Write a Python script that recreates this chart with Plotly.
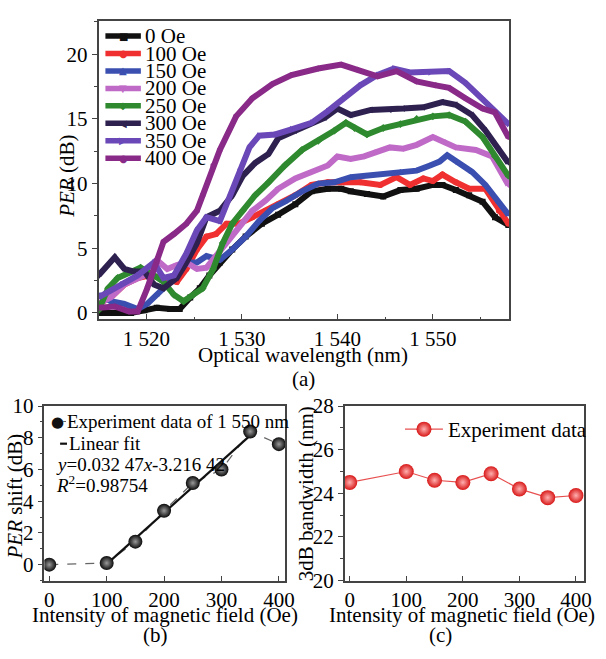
import plotly.graph_objects as go

W, H = 606, 659
FONT = "Liberation Serif, Times New Roman, serif"

# ---------------- Panel (a) data: PER vs wavelength ----------------
series_names = ["0 Oe", "100 Oe", "150 Oe", "200 Oe", "250 Oe", "300 Oe", "350 Oe", "400 Oe"]

wl_0 = [1515, 1516.7, 1518.4, 1519.8, 1521.1, 1522.5, 1523.5, 1524.6, 1525.6, 1526.6, 1527.7, 1529, 1530.4,
        1532.1, 1533.8, 1535.6, 1537.3, 1539, 1540.4, 1541.4, 1543.1, 1544.8, 1546.6, 1548.3, 1550, 1551,
        1552.4, 1553.8, 1555.2, 1556.5, 1557.9]
per_0 = [0.0, 0.0, 0.0, 0.2, 0.4, 0.3, 0.3, 1.2, 1.9, 2.9, 3.9, 4.9, 5.9, 6.9, 7.6, 8.4, 9.4, 9.6, 9.6, 9.4,
         9.2, 9.0, 9.5, 9.6, 9.9, 9.9, 9.5, 9.1, 8.6, 7.4, 6.8]

wl_100 = [1515, 1516.3, 1517.7, 1519.1, 1520.4, 1521.8, 1523.2, 1524.2, 1525.3, 1526.3, 1527.3, 1528.4, 1529.7,
          1531.1, 1532.5, 1533.8, 1535.6, 1537.3, 1539, 1540.7, 1542.4, 1544.5, 1546.2, 1547.6, 1549, 1550,
          1551, 1552.4, 1553.8, 1555.5, 1556.9, 1557.9]
per_100 = [0.7, 1.2, 2.2, 2.7, 2.9, 2.7, 2.4, 3.4, 4.9, 5.9, 6.1, 6.9, 6.9, 7.4, 7.9, 8.4, 9.1, 9.9, 10.1, 10.1,
           10.1, 9.9, 10.5, 9.9, 10.4, 10.2, 10.7, 10.1, 9.6, 9.6, 7.9, 6.9]

wl_150 = [1515, 1516.3, 1517.7, 1519.1, 1520.1, 1521.1, 1522.2, 1523.2, 1524.2, 1525.3, 1526.3, 1527.7, 1529,
          1530.4, 1531.8, 1533.2, 1534.5, 1536.3, 1538, 1539.7, 1541.4, 1543.1, 1544.8, 1546.6, 1548.3, 1549.7,
          1550.7, 1551.5, 1552.7, 1554.1, 1555.5, 1556.9, 1557.9]
per_150 = [1.4, 0.9, 0.7, 0.3, 0.7, 1.4, 2.2, 2.9, 3.9, 3.9, 4.4, 4.1, 4.9, 5.9, 7.1, 8.1, 8.6, 9.4, 10.0, 10.1,
           10.5, 10.6, 10.7, 10.9, 11.0, 11.4, 11.7, 12.2, 11.6, 10.9, 9.9, 8.6, 7.6]

wl_200 = [1515, 1516.3, 1517.7, 1519.1, 1520.1, 1521.1, 1522.2, 1523.2, 1524.2, 1525.3, 1526.3, 1527.3, 1528.4,
          1529.7, 1531.1, 1532.5, 1533.8, 1535.6, 1537.3, 1539, 1540, 1541.4, 1542.8, 1544.2, 1545.5, 1546.9,
          1548.3, 1550, 1551, 1552.4, 1554.5, 1556.2, 1557.9]
per_200 = [0.7, 1.2, 2.2, 2.7, 3.0, 4.1, 3.4, 3.7, 3.9, 3.4, 3.5, 4.4, 5.4, 6.6, 7.9, 8.7, 9.6, 10.4, 10.9, 11.4,
           12.1, 11.9, 12.1, 12.5, 12.8, 12.7, 13.0, 13.6, 13.3, 12.8, 12.6, 12.1, 9.9]

wl_250 = [1515, 1516, 1517, 1518.4, 1519.4, 1520.8, 1521.8, 1522.9, 1523.9, 1524.9, 1525.9, 1527, 1528, 1529,
          1530.1, 1531.4, 1532.8, 1534.5, 1536.3, 1538, 1539.7, 1540.9, 1541.8, 1543.1, 1544.8, 1546.6, 1548.3,
          1550, 1551.7, 1553.4, 1555.2, 1556.5, 1557.9]
per_250 = [0.2, 1.9, 2.7, 3.2, 3.5, 2.9, 2.4, 1.4, 0.9, 1.4, 1.9, 3.4, 5.4, 6.9, 7.9, 9.1, 10.1, 11.4, 12.6, 13.3,
           14.1, 14.7, 14.3, 13.8, 14.3, 14.6, 15.0, 15.2, 15.3, 14.8, 13.6, 12.1, 10.6]

wl_300 = [1515, 1516.7, 1517.7, 1518.7, 1519.8, 1520.8, 1521.8, 1523.2, 1524.2, 1525.3, 1526.3, 1527.7, 1529,
          1530.1, 1531.4, 1532.8, 1533.8, 1535.6, 1537.3, 1538.7, 1540, 1541.4, 1543.5, 1545.5, 1546.9, 1549,
          1551, 1552.4, 1554.1, 1555.5, 1556.9, 1557.9]
per_300 = [2.9, 4.3, 3.4, 3.2, 3.2, 2.2, 1.9, 2.7, 3.9, 5.4, 7.4, 7.9, 9.1, 10.6, 11.6, 12.3, 13.5, 14.1, 14.7,
           15.1, 15.8, 15.3, 15.7, 15.7, 15.8, 15.9, 16.3, 16.1, 15.3, 14.1, 12.6, 11.6]

wl_350 = [1515, 1517.4, 1519.1, 1520.8, 1521.8, 1522.9, 1524.2, 1525.3, 1526.3, 1527.7, 1528.7, 1529.7, 1530.8,
          1531.8, 1533.5, 1535.2, 1537.3, 1539, 1540.7, 1542.4, 1544.2, 1545.9, 1547.6, 1549.7, 1551.7, 1553.4,
          1555.2, 1556.5, 1557.9]
per_350 = [1.2, 2.2, 2.9, 3.9, 2.7, 2.9, 4.6, 6.4, 7.4, 7.1, 8.9, 10.9, 12.8, 13.7, 13.8, 14.2, 14.7, 15.6, 16.6,
           17.6, 18.4, 18.9, 18.6, 18.6, 18.7, 17.8, 16.6, 15.6, 14.6]

wl_400 = [1515, 1516.7, 1518.2, 1519.1, 1520.1, 1521.1, 1521.8, 1522.9, 1524.2, 1525.3, 1525.9, 1527, 1527.7,
          1529.4, 1531.1, 1533.2, 1535.2, 1538, 1540.4, 1542.1, 1544.2, 1546.2, 1548.3, 1550.3, 1551.7, 1553.4,
          1555.2, 1556.5, 1557.9]
per_400 = [0.4, 0.5, 0.1, 0.1, 1.9, 3.9, 5.5, 6.1, 6.9, 7.9, 9.1, 11.4, 12.6, 15.2, 16.6, 17.7, 18.4, 18.9, 19.2,
           18.8, 18.3, 18.7, 17.9, 17.6, 17.4, 16.6, 15.8, 15.5, 13.6]

wl_ticks = [1520, 1530, 1540, 1550]
wl_ticklabels = ["1 520", "1 530", "1 540", "1 550"]

# ---------------- Panel (b) data: PER shift vs field ----------------
field = [0, 100, 150, 200, 250, 300, 350, 400]
per_shift = [0.0, 0.1, 1.45, 3.4, 5.15, 6.0, 8.4, 7.6]
fit_field = [100, 355]
fit_shift = [0.03, 8.31]

# ---------------- Panel (c) data: 3dB bandwidth vs field ----------------
bandwidth = [24.5, 25.0, 24.6, 24.5, 24.9, 24.2, 23.8, 23.9]

# ---------------- styling ----------------
colors = ["#111111", "#f03030", "#3a4fb0", "#c06ac8", "#2f8a2f", "#2e2150", "#6a48b8", "#8a2a88"]
symbols = ["square", "circle", "triangle-up", "triangle-down", "diamond", "triangle-left", "triangle-right", "hexagon"]
legend_glyphs = ["\u25A0", "\u25CF", "\u25B2", "\u25BC", "\u25C6", "\u25C0", "\u25B6", "\u25CF"]

wl_all = [wl_0, wl_100, wl_150, wl_200, wl_250, wl_300, wl_350, wl_400]
per_all = [per_0, per_100, per_150, per_200, per_250, per_300, per_350, per_400]


def px(x):
    return x / W


def py(y):
    return 1 - y / H


fig = go.Figure()

for name, xs, ys, c, s in zip(series_names, wl_all, per_all, colors, symbols):
    fig.add_trace(go.Scatter(x=xs, y=ys, name=name, mode="lines+markers",
                             line=dict(color=c, width=6, shape="linear"),
                             marker=dict(symbol=s, size=6, color=c),
                             xaxis="x", yaxis="y", showlegend=False))

# panel (b)
fig.add_trace(go.Scatter(x=field, y=per_shift, mode="lines", line=dict(color="#666666", width=1.2, dash="dash"),
                         xaxis="x2", yaxis="y2", showlegend=False))
fig.add_trace(go.Scatter(x=fit_field, y=fit_shift, mode="lines", line=dict(color="#111111", width=2.2),
                         xaxis="x2", yaxis="y2", showlegend=False, name="Linear fit"))
fig.add_trace(go.Scatter(x=field, y=per_shift, mode="markers",
                         marker=dict(size=14, color="#0a0a0a", gradient=dict(type="radial", color="#9a9a9a")),
                         xaxis="x2", yaxis="y2", showlegend=False, name="Experiment data of 1 550 nm"))

# panel (c)
fig.add_trace(go.Scatter(x=field, y=bandwidth, mode="lines+markers", name="Experiment data",
                         line=dict(color="#e85050", width=1.2),
                         marker=dict(size=15, color="#d81818", gradient=dict(type="radial", color="#ffb0b0")),
                         xaxis="x3", yaxis="y3", showlegend=True))

axis_common = dict(showline=True, linecolor="#444444", linewidth=1.5, mirror=True, showgrid=False,
                   zeroline=False, tickcolor="#444444", tickfont=dict(family=FONT, size=21, color="black"))

BOT = 590
TOP = 409

fig.update_layout(
    width=W, height=H,
    margin=dict(l=0, r=0, t=0, b=0),
    paper_bgcolor="white", plot_bgcolor="white",
    font=dict(family=FONT, size=21, color="black"),
    xaxis=dict(domain=[px(100), px(517)], range=[1515, 1558], tickmode="array", tickvals=wl_ticks,
               ticktext=wl_ticklabels, ticks="inside", ticklen=6,
               minor=dict(dtick=5, tick0=1515, ticks="inside", ticklen=3, tickcolor="#444444"),
               anchor="y", **axis_common),
    yaxis=dict(domain=[py(319), py(9)], range=[-0.5, 22.6], tickmode="array", tickvals=[0, 5, 10, 15, 20],
               ticks="outside", ticklen=5,
               minor=dict(dtick=2.5, tick0=0, ticks="outside", ticklen=3, tickcolor="#444444"),
               anchor="x", **axis_common),
    xaxis2=dict(domain=[px(45), px(289.5)], range=[-8.6, 411], tickmode="array", tickvals=[0, 100, 200, 300, 400],
                ticks="inside", ticklen=5, anchor="y2", **axis_common),
    yaxis2=dict(domain=[py(BOT), py(TOP)], range=[-1.0, 10], tickmode="array", tickvals=[0, 2, 4, 6, 8, 10],
                ticks="outside", ticklen=5,
                minor=dict(dtick=1, tick0=0, ticks="outside", ticklen=3, tickcolor="#444444"),
                anchor="x2", **axis_common),
    xaxis3=dict(domain=[px(350), px(592.7)], range=[-8.7, 414], tickmode="array", tickvals=[0, 100, 200, 300, 400],
                ticks="inside", ticklen=5, anchor="y3", **axis_common),
    yaxis3=dict(domain=[py(BOT), py(TOP)], range=[20, 28], tickmode="array", tickvals=[20, 22, 24, 26, 28],
                ticks="outside", ticklen=5,
                minor=dict(dtick=1, tick0=20, ticks="outside", ticklen=3, tickcolor="#444444"),
                anchor="x3", **axis_common),
    legend=dict(x=px(406), y=py(412), xanchor="left", yanchor="top", bgcolor="rgba(0,0,0,0)",
                font=dict(family=FONT, size=21, color="black"), itemwidth=38, borderwidth=0),
)

annotations = []
shapes = []


def text(x, y, s, size=21, xanchor="center", angle=0):
    annotations.append(dict(x=px(x), y=py(y), xref="paper", yref="paper", text=s, showarrow=False,
                            xanchor=xanchor, yanchor="middle", textangle=angle,
                            font=dict(family=FONT, size=size, color="black")))


# panel (a) manual legend
for i, (name, c, g) in enumerate(zip(series_names, colors, legend_glyphs)):
    yy = 25 + i * 18.1
    shapes.append(dict(type="line", xref="paper", yref="paper", x0=px(107), x1=px(143), y0=py(yy), y1=py(yy),
                       line=dict(color=c, width=5.5)))
    annotations.append(dict(x=px(125), y=py(yy), xref="paper", yref="paper", text=g, showarrow=False,
                            xanchor="center", yanchor="middle",
                            font=dict(family="DejaVu Sans", size=10, color=c)))
    text(145, yy, name, size=21, xanchor="left")

# axis titles & panel labels (a)
text(68, 170, "<i>PER</i> (dB)", angle=-90)
text(308, 356, "Optical wavelength (nm)")
text(308, 381, "(a)")

# panel (b) legend + annotation
shapes.append(dict(type="line", xref="paper", yref="paper", x0=px(58), x1=px(67), y0=py(425), y1=py(425),
                   line=dict(color="#666666", width=1.2, dash="dot")))
annotations.append(dict(x=px(58), y=py(425), xref="paper", yref="paper", text="\u25CF", showarrow=False,
                        xanchor="center", yanchor="middle", font=dict(family="DejaVu Sans", size=15, color="#111111")))
text(66, 425, "Experiment data of 1 550 nm", size=19, xanchor="left")
shapes.append(dict(type="line", xref="paper", yref="paper", x0=px(61), x1=px(68), y0=py(448), y1=py(448),
                   line=dict(color="#111111", width=2.2)))
text(68, 448, "Linear fit", size=19, xanchor="left")
text(55, 470, "<i>y</i>=0.032 47<i>x</i>-3.216 42", size=19, xanchor="left")
text(55, 490, "<i>R</i><sup>2</sup>=0.98754", size=19, xanchor="left")

text(15, 503, "<i>PER</i> shift (dB)", angle=-90)
text(167, 626, "Intensity of magnetic field (Oe)")
text(158, 647, "(b)")

# panel (c)
text(310, 500, "3dB bandwidth (nm)", angle=-90)
text(469, 626, "Intensity of magnetic field (Oe)")
text(447, 647, "(c)")

fig.update_layout(annotations=annotations, shapes=shapes)

page_fix = ("document.documentElement.style.margin='0';document.body.style.margin='0';"
            "document.body.style.overflow='hidden';"
            "var gd=document.getElementById('{plot_id}');gd.style.position='absolute';"
            "gd.style.left='0px';gd.style.top='0px';")

fig.write_html("out.html", post_script=page_fix, config={"displayModeBar": False})
